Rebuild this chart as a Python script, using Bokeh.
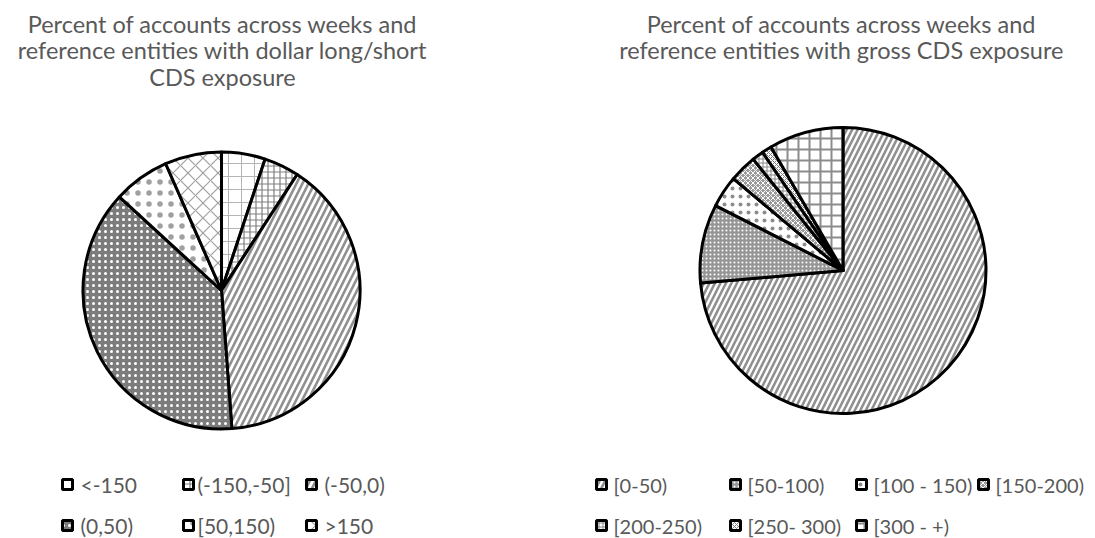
import numpy as np
from bokeh.plotting import figure
from bokeh.models import Range1d
from bokeh.core.properties import value
from bokeh.embed import file_html
from bokeh.resources import INLINE

# ---------------- data ----------------
left_title = ["Percent of accounts across weeks and",
              "reference entities with dollar long/short",
              "CDS exposure"]
left_labels = ["<-150", "(-150,-50]", "(-50,0)", "(0,50)", "[50,150)", ">150"]
left_values = [5.1, 4.1, 39.6, 38.0, 6.6, 6.6]

right_title = ["Percent of accounts across weeks and",
               "reference entities with gross CDS exposure"]
right_labels = ["[0-50)", "[50-100)", "[100 - 150)", "[150-200)",
                "[200-250)", "[250- 300)", "[300 - +)"]
right_values = [73.6, 8.9, 3.6, 3.1, 1.3, 1.1, 8.4]

# ---------------- styles ----------------
left_styles = [
    dict(fill_color="white", hatch_pattern="cross", hatch_color="#b4b4b4", hatch_scale=13, hatch_weight=1.0),
    dict(fill_color="white", hatch_pattern="cross", hatch_color="#808080", hatch_scale=6, hatch_weight=1.2),
    dict(fill_color="white", hatch_pattern="right_diagonal_line", hatch_color="#909090", hatch_scale=12, hatch_weight=2.6),
    dict(fill_color="#7c7c7c", hatch_pattern="dot", hatch_color="white", hatch_scale=6, hatch_weight=1.6),
    dict(fill_color="white", hatch_pattern="dot", hatch_color="#a0a0a0", hatch_scale=11, hatch_weight=1.0),
    dict(fill_color="white", hatch_pattern="diagonal_cross", hatch_color="#a0a0a0", hatch_scale=15, hatch_weight=1.2),
]
right_styles = [
    dict(fill_color="white", hatch_pattern="right_diagonal_line", hatch_color="#909090", hatch_scale=11, hatch_weight=2.6),
    dict(fill_color="#969696", hatch_pattern="dot", hatch_color="white", hatch_scale=4, hatch_weight=1.2),
    dict(fill_color="white", hatch_pattern="dot", hatch_color="#8c8c8c", hatch_scale=8, hatch_weight=2.4),
    dict(fill_color="#9a9a9a", hatch_pattern="diagonal_cross", hatch_color="white", hatch_scale=5, hatch_weight=1.0),
    dict(fill_color="white", hatch_pattern="cross", hatch_color="#8a8a8a", hatch_scale=4, hatch_weight=1.0),
    dict(fill_color="white", hatch_pattern="diagonal_cross", hatch_color="#808080", hatch_scale=4, hatch_weight=1.0),
    dict(fill_color="white", hatch_pattern="cross", hatch_color="#8c8c8c", hatch_scale=11, hatch_weight=2.0),
]

W, H = 1095, 538
TXT = "#595959"
FONT = "Lato"

p = figure(width=W, height=H, x_range=Range1d(0, W), y_range=Range1d(0, H),
           output_backend="svg", toolbar_location=None, min_border=0)
p.axis.visible = False
p.grid.visible = False
p.outline_line_color = None


def Y(y_img):
    return H - y_img


def draw_pie(cx, cy, r, vals, styles):
    vals = np.asarray(vals, dtype=float)
    frac = vals / vals.sum()
    cum = np.concatenate([[0.0], np.cumsum(frac)])
    for i, st in enumerate(styles):
        start = np.pi / 2 - cum[i] * 2 * np.pi
        end = np.pi / 2 - cum[i + 1] * 2 * np.pi
        p.wedge(x=cx, y=Y(cy), radius=r, start_angle=start, end_angle=end,
                direction="clock", line_color="black", line_width=3,
                line_join="round", **st)


def draw_title(cx, ytop, lines, size):
    ys = [Y(ytop + 26.5 * i) for i in range(len(lines))]
    p.text(x=[cx] * len(lines), y=ys, text=lines, text_align="center",
           text_baseline="middle", text_color=TXT,
           text_font=value(FONT), text_font_size=size)


def draw_legend(items, labels, styles, size):
    for (mx, tx, y), lab, st in zip(items, labels, styles):
        p.rect(x=mx + 5, y=Y(y), width=10, height=10, line_color="black",
               line_width=3, **st)
        p.text(x=[tx], y=[Y(y)], text=[lab], text_align="left",
               text_baseline="middle", text_color=TXT,
               text_font=value(FONT), text_font_size=size)


rows = [484, 525]

# left chart
draw_title(222, 23, left_title, "23.5px")
draw_pie(221, 290, 138.5, left_values, left_styles)
lcols = [(62, 80), (183, 197), (306, 324)]
litems = [(lcols[i % 3][0], lcols[i % 3][1], rows[i // 3]) for i in range(len(left_labels))]
draw_legend(litems, left_labels, left_styles, "21px")

# right chart
draw_title(841, 23, right_title, "23.5px")
draw_pie(842.5, 270, 143, right_values, right_styles)
rcols = [(596, 613), (730, 747), (856, 873), (978, 995)]
ritems = [(rcols[i][0], rcols[i][1], rows[0]) for i in range(4)] + \
         [(rcols[i][0], rcols[i][1], rows[1]) for i in range(3)]
draw_legend(ritems, right_labels, right_styles, "20px")

open("out.html", "w").write(file_html(p, INLINE))
